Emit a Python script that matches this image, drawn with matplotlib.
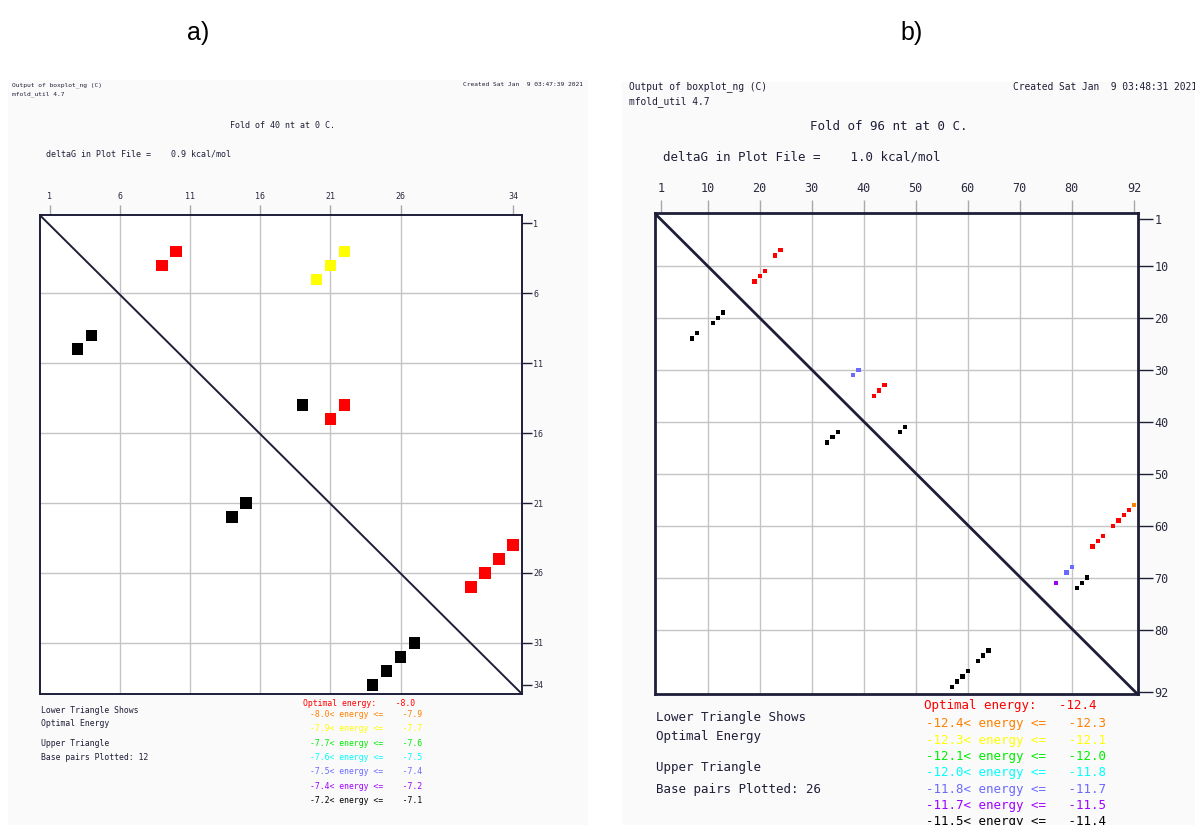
import matplotlib.pyplot as plt
from matplotlib.patches import Rectangle

W, H = 1195, 825

# energy bins (colour index 0 = optimal ... 7 = worst)
bin_colors = ['#ff0000', '#ff8000', '#ffff00', '#00ee00', '#00ffff', '#6a6aff', '#a000ff', '#000000']

# ---- panel a data ----
a_nt = 40
a_dg = '0.9'
a_time = 'Created Sat Jan  9 03:47:39 2021'
a_xticks = [1, 6, 11, 16, 21, 26, 34]
a_yticks = [1, 6, 11, 16, 21, 26, 31, 34]
a_xgrid = [6, 11, 16, 21, 26]
a_ygrid = [6, 11, 16, 21, 26, 31]
a_up_col = [10, 9, 22, 21, 20, 22, 21, 19, 34, 33, 32, 31]
a_up_row = [3, 4, 3, 4, 5, 14, 15, 14, 24, 25, 26, 27]
a_up_bin = [0, 0, 2, 2, 2, 0, 0, 7, 0, 0, 0, 0]
a_low_col = [3, 4, 14, 15, 24, 25, 26, 27]
a_low_row = [10, 9, 22, 21, 34, 33, 32, 31]
a_opt = '-8.0'
a_lo = ['-8.0', '-7.9', '-7.7', '-7.6', '-7.5', '-7.4', '-7.2']
a_hi = ['-7.9', '-7.7', '-7.6', '-7.5', '-7.4', '-7.2', '-7.1']

# ---- panel b data ----
b_nt = 96
b_dg = '1.0'
b_time = 'Created Sat Jan  9 03:48:31 2021'
b_xticks = [1, 10, 20, 30, 40, 50, 60, 70, 80, 92]
b_yticks = [1, 10, 20, 30, 40, 50, 60, 70, 80, 92]
b_xgrid = [10, 20, 30, 40, 50, 60, 70, 80]
b_ygrid = [10, 20, 30, 40, 50, 60, 70, 80]
b_up_col = [24, 23, 21, 20, 19, 39, 38, 44, 43, 42, 48, 47, 92,
            91, 90, 89, 88, 86, 85, 84, 80, 79, 77, 83, 82, 81]
b_up_row = [7, 8, 11, 12, 13, 30, 31, 33, 34, 35, 41, 42, 56,
            57, 58, 59, 60, 62, 63, 64, 68, 69, 71, 70, 71, 72]
b_up_bin = [0, 0, 0, 0, 0, 5, 5, 0, 0, 0, 7, 7, 1,
            0, 0, 0, 0, 0, 0, 0, 5, 5, 6, 7, 7, 7]
b_low_col = [13, 12, 11, 8, 7, 35, 34, 33, 64, 63, 62, 60, 59, 58, 57]
b_low_row = [19, 20, 21, 23, 24, 42, 43, 44, 84, 85, 86, 88, 89, 90, 91]
b_opt = '-12.4'
b_lo = ['-12.4', '-12.3', '-12.1', '-12.0', '-11.8', '-11.7', '-11.5']
b_hi = ['-12.3', '-12.1', '-12.0', '-11.8', '-11.7', '-11.5', '-11.4']


def fx(px):
    return px / W


def fy(py):
    return 1 - py / H


fig = plt.figure(figsize=(W / 100, H / 100), dpi=100)
mono = 'DejaVu Sans Mono'
dark = '#1e1e38'


def panel(box, frame, lims, xticks, yticks, xgrid, ygrid, up, low, n_pairs,
          nt, dg, stamp, opt, lo, hi, s):
    # s: dict of sizes / text positions
    bx0, by0, bx1, by1 = box
    fig.patches.append(Rectangle((fx(bx0), fy(by1)), fx(bx1) - fx(bx0), fy(by0) - fy(by1),
                                 transform=fig.transFigure, color='#fafafa', zorder=-5))
    l, t, r, b = frame
    ax = fig.add_axes([fx(l), fy(b), fx(r) - fx(l), fy(t) - fy(b)])
    ax.set_facecolor('white')
    ax.set_xlim(lims[0], lims[1])
    ax.set_ylim(lims[3], lims[2])
    for g in xgrid:
        ax.axvline(g, color='#c4c4c4', lw=1, zorder=1)
    for g in ygrid:
        ax.axhline(g, color='#c4c4c4', lw=1, zorder=1)
    ax.plot([0, 1], [1, 0], transform=ax.transAxes, color=dark, lw=s['lw'], zorder=2)
    sq = 0.82
    for c, rw, k in zip(*up):
        ax.add_patch(Rectangle((c - sq / 2, rw - sq / 2), sq, sq, color=bin_colors[k], lw=0, zorder=3))
    for c, rw in zip(*low):
        ax.add_patch(Rectangle((c - sq / 2, rw - sq / 2), sq, sq, color='black', lw=0, zorder=3))
    for sp in ax.spines.values():
        sp.set_color(dark)
        sp.set_linewidth(s['lw'])
    ax.xaxis.tick_top()
    ax.set_xticks(xticks)
    ax.set_xticklabels([str(v) for v in xticks], family=mono)
    ax.tick_params(axis='x', top=True, bottom=False, direction='out', length=s['tl'],
                   color='#a8a8a8', width=1, labelsize=s['tick'], pad=s['xpad'], labelcolor='#2a2a40')
    ax.yaxis.tick_right()
    ax.set_yticks(yticks)
    ax.set_yticklabels([str(v) for v in yticks], family=mono)
    ax.tick_params(axis='y', right=True, left=False, direction='out', length=s['rl'],
                   color=dark, width=1, labelsize=s['tick'], pad=1, labelcolor='#2a2a40')

    # header texts
    hx, hy = s['head']
    fig.text(fx(hx), fy(hy), 'Output of boxplot_ng (C)', family=mono, fontsize=s['small'],
             color=dark, va='center')
    fig.text(fx(hx), fy(hy + s['hgap']), 'mfold_util 4.7', family=mono, fontsize=s['small'],
             color=dark, va='center')
    fig.text(fx(s['stamp'][0]), fy(s['stamp'][1]), stamp, family=mono, fontsize=s['small'],
             color=dark, va='center', ha='right')
    fig.text(fx(s['fold'][0]), fy(s['fold'][1]), 'Fold of %d nt at 0 C.' % nt, family=mono,
             fontsize=s['text'], color=dark, va='center', ha='center')
    fig.text(fx(s['dg'][0]), fy(s['dg'][1]), 'deltaG in Plot File =    %s kcal/mol' % dg,
             family=mono, fontsize=s['text'], color=dark, va='center')

    # left notes
    lx = s['left'][0]
    for txt, yy in zip(['Lower Triangle Shows', 'Optimal Energy', 'Upper Triangle',
                        'Base pairs Plotted: %d' % n_pairs], s['left'][1]):
        fig.text(fx(lx), fy(yy), txt, family=mono, fontsize=s['leg'], color=dark, va='center')

    # energy legend
    ox, oy = s['opt']
    fig.text(fx(ox), fy(oy), 'Optimal energy:' + ' ' * s['sp'] + opt, family=mono,
             fontsize=s['leg'], color=bin_colors[0], va='center')
    for k in range(len(lo)):
        fig.text(fx(s['bins'][0]), fy(s['bins'][1] + k * s['bins'][2]),
                 '%s< energy <=%s%s' % (lo[k], ' ' * s['sp'], hi[k]), family=mono,
                 fontsize=s['leg'], color=bin_colors[k + 1], va='center')
    return ax


sa = dict(lw=1.4, tl=7, rl=7, tick=6, xpad=3, small=4.5, text=6, leg=5.9, hgap=9.5,
          head=(12, 85), stamp=(583, 85), fold=(283, 126), dg=(46, 154),
          left=(40.7, [710.3, 723, 743.3, 757.7]), opt=(303, 703), bins=(310, 714.7, 14.27), sp=4)
panel((8, 80, 587, 825), (39.7, 215, 522.3, 694.3), (0.3, 34.66, 0.4, 34.68),
      a_xticks, a_yticks, a_xgrid, a_ygrid, (a_up_col, a_up_row, a_up_bin),
      (a_low_col, a_low_row), len(a_up_col), a_nt, a_dg, a_time, a_opt, a_lo, a_hi, sa)

sb = dict(lw=2, tl=9.5, rl=11, tick=8.5, xpad=4, small=6.9, text=9, leg=9, hgap=15,
          head=(629, 87), stamp=(1197, 87), fold=(889, 126), dg=(663, 157.5),
          left=(655.7, [717.3, 736.7, 768, 789.3]), opt=(924, 706), bins=(925.7, 724, 16.3), sp=3)
panel((622, 82, 1195, 825), (654.7, 213.3, 1137.7, 694.3), (-0.2, 92.7, -0.1, 92.45),
      b_xticks, b_yticks, b_xgrid, b_ygrid, (b_up_col, b_up_row, b_up_bin),
      (b_low_col, b_low_row), len(b_up_col), b_nt, b_dg, b_time, b_opt, b_lo, b_hi, sb)

fig.text(fx(198), fy(33), 'a)', family='Liberation Sans', fontsize=18, ha='center', va='center')
fig.text(fx(912), fy(33), 'b)', family='Liberation Sans', fontsize=18, ha='center', va='center')

fig.savefig('out.png', dpi=100)
